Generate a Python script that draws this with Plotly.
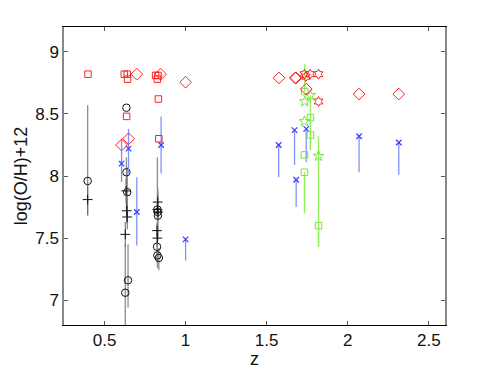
import plotly.graph_objects as go

# Black circles (with grey error bars)
circ_z = [0.396, 0.635, 0.635, 0.640, 0.645, 0.628, 0.826, 0.828, 0.829, 0.824, 0.826, 0.835]
circ_y = [7.96, 8.55, 8.03, 7.87, 7.16, 7.06, 7.73, 7.71, 7.68, 7.43, 7.36, 7.34]
circ_up = [0.61, 0.0, 0.12, 0.20, 0.29, 0.39, 0.42, 0.20, 0.20, 0.10, 0.10, 0.08]
circ_dn = [0.28, 0.0, 0.30, 0.20, 0.22, 0.40, 0.20, 0.20, 0.20, 0.10, 0.10, 0.10]

# Black plus markers
plus_z = [0.396, 0.633, 0.637, 0.640, 0.628, 0.828, 0.826, 0.830, 0.824, 0.826]
plus_y = [7.81, 7.88, 7.72, 7.67, 7.53, 7.79, 7.73, 7.71, 7.56, 7.50]
plus_err = [0.12, 0.10, 0.10, 0.10, 0.10, 0.06, 0.06, 0.06, 0.06, 0.06]

# Red open squares
sq_z = [0.398, 0.622, 0.640, 0.642, 0.636, 0.815, 0.830, 0.826, 0.832, 0.835]
sq_y = [8.82, 8.82, 8.82, 8.78, 8.48, 8.81, 8.81, 8.78, 8.62, 8.30]

# Red diamonds
dia_z = [0.605, 0.648, 0.699, 0.846, 1.000, 1.576, 1.676, 1.682, 1.744, 2.070, 2.315]
dia_y = [8.25, 8.30, 8.82, 8.82, 8.755, 8.79, 8.79, 8.79, 8.70, 8.66, 8.66]

# Red hexagrams
hex_z = [1.733, 1.742, 1.768, 1.820, 1.820]
hex_y = [8.82, 8.80, 8.82, 8.82, 8.60]

# Blue crosses with error bars
bx_z = [0.605, 0.648, 0.699, 0.849, 1.000, 1.574, 1.672, 1.682, 1.744, 2.070, 2.315]
bx_y = [8.10, 8.22, 7.71, 8.25, 7.49, 8.25, 8.37, 7.97, 8.38, 8.32, 8.27]
bx_up = [0.20, 0.16, 0.28, 0.23, 0.0, 0.0, 0.0, 0.0, 0.0, 0.0, 0.0]
bx_dn = [0.15, 0.20, 0.27, 0.23, 0.17, 0.26, 0.28, 0.22, 0.27, 0.29, 0.26]

# Green open squares with error bars
gsq_z = [1.735, 1.770, 1.770, 1.733, 1.733, 1.820]
gsq_y = [8.68, 8.47, 8.33, 8.17, 8.03, 7.60]
gsq_up = [0.22, 0.0, 0.12, 0.0, 0.0, 0.0]
gsq_dn = [0.0, 0.0, 0.12, 0.0, 0.33, 0.17]

# Green pentagrams with error bars
gst_z = [1.770, 1.735, 1.733, 1.820]
gst_y = [8.65, 8.60, 8.44, 8.16]
gst_up = [0.0, 0.0, 0.0, 0.16]
gst_dn = [0.44, 0.0, 0.0, 0.73]

RED = "#ff2020"
BLACK = "#111111"
GREY = "#8c8c8c"
BLUE = "#2f3fff"
BLUE_ERR = "#7f92ff"
GREEN = "#6fe830"
GREEN_ERR = "#90f055"

fig = go.Figure()

def err(up, dn, color, th=1.3):
    return dict(type="data", symmetric=False, array=up, arrayminus=dn,
                color=color, thickness=th, width=0)

fig.add_trace(go.Scatter(x=circ_z, y=circ_y, mode="markers",
                         marker=dict(symbol="circle-open", size=7.5, color=BLACK, line=dict(width=1)),
                         error_y=err(circ_up, circ_dn, GREY)))
fig.add_trace(go.Scatter(x=plus_z, y=plus_y, mode="markers",
                         marker=dict(symbol="cross-thin-open", size=7, color=BLACK, line=dict(width=1, color=BLACK)),
                         error_y=dict(type="data", array=plus_err, color="#666666", thickness=1, width=0)))
fig.add_trace(go.Scatter(x=bx_z, y=bx_y, mode="markers",
                         marker=dict(symbol="x-thin-open", size=5.5, color=BLUE, line=dict(width=1.2, color=BLUE)),
                         error_y=err(bx_up, bx_dn, BLUE_ERR)))
fig.add_trace(go.Scatter(x=gsq_z, y=gsq_y, mode="markers",
                         marker=dict(symbol="square-open", size=6.5, color=GREEN, line=dict(width=1)),
                         error_y=err(gsq_up, gsq_dn, GREEN_ERR)))
fig.add_trace(go.Scatter(x=gst_z, y=gst_y, mode="markers",
                         marker=dict(symbol="star-open", size=8, color=GREEN, line=dict(width=1)),
                         error_y=err(gst_up, gst_dn, GREEN_ERR)))
fig.add_trace(go.Scatter(x=sq_z, y=sq_y, mode="markers",
                         marker=dict(symbol="square-open", size=6.5, color=RED, line=dict(width=1))))
fig.add_trace(go.Scatter(x=dia_z, y=dia_y, mode="markers",
                         marker=dict(symbol="diamond-open", size=9, color=RED, line=dict(width=1))))
fig.add_trace(go.Scatter(x=hex_z, y=hex_y, mode="markers",
                         marker=dict(symbol="hexagram-open", size=7.5, color=RED, line=dict(width=1))))

# page body has an 8px default margin, so the figure is sized to fit inside the window
fig.update_layout(
    width=483, height=361,
    margin=dict(l=56, r=46, t=19, b=44),
    plot_bgcolor="white", paper_bgcolor="white",
    showlegend=False,
    font=dict(family="Liberation Sans, Arial, sans-serif", size=17, color="#111111"),
)
fig.update_xaxes(range=[0.25, 2.6], tickvals=[0.5, 1, 1.5, 2, 2.5], ticktext=["0.5", "1", "1.5", "2", "2.5"],
                 ticks="inside", ticklen=4, tickcolor="#555555", showline=True, linecolor="black",
                 linewidth=1, mirror="ticks", showgrid=False, zeroline=False, automargin=False,
                 title=dict(text="z", standoff=0, font=dict(size=18)))
fig.update_yaxes(range=[6.8, 9.2], tickvals=[7, 7.5, 8, 8.5, 9], ticktext=["7", "7.5", "8", "8.5", "9"],
                 ticks="inside", ticklen=4, tickcolor="#555555", showline=True, linecolor="#888888",
                 linewidth=1.5, mirror="ticks", showgrid=False, zeroline=False, automargin=False,
                 title=dict(text="log(O/H)+12", standoff=3, font=dict(size=18)))

fig.write_html("out.html")
